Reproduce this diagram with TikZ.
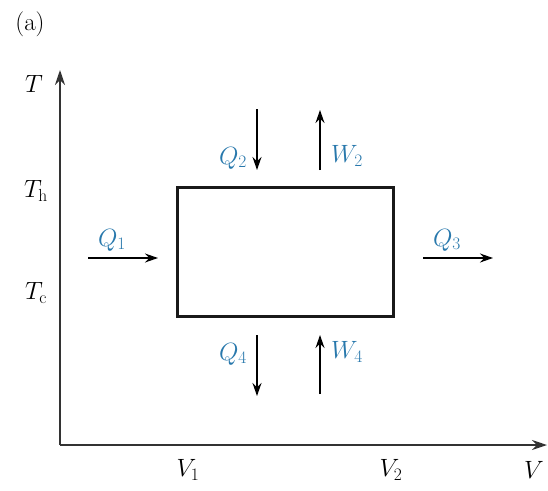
\RequirePackage{fix-cm}
\documentclass[tikz,border=0pt]{standalone}
\usepackage{amsmath, amssymb}
\usepackage{xcolor}
\usepackage{tikz}
\usetikzlibrary{arrows.meta, positioning}
\definecolor{heatblue}{RGB}{40,120,172}
\tikzset{
    axis/.style={line width=1.5pt, draw=black!80, ->, >={Stealth[length=15pt,width=10pt]}},
    arrow/.style={line width=1.3pt, ->, >={Stealth[length=13pt,width=9pt]}},
    cyclebox/.style={rectangle, draw=black!90, line width=3pt, minimum width=216pt, minimum height=129pt, inner sep=0pt},
    flowlabel/.style={text=heatblue, font=\fontsize{25}{28}\selectfont, inner sep=0pt},
    ticklabel/.style={font=\fontsize{25}{28}\selectfont, inner sep=0pt}
}

\begin{document}
\begin{tikzpicture}[x=1pt, y=-1pt]
    \useasboundingbox (0,0) rectangle (548,490);
    \node (panel) [ticklabel] at (30,24) {(a)};

    % axes
    \coordinate (origin) at (60,445);
    \coordinate (ytip) at (60,70);
    \coordinate (xtip) at (547,445);
    \draw [axis] (origin) -- (ytip);
    \draw [axis] (origin) -- (xtip);

    \node (T) [ticklabel] at (34,84) {$T$};
    \node (Th) [ticklabel] at (36,191) {$T_{\mathrm{h}}$};
    \node (Tc) [ticklabel] at (36,293) {$T_{\mathrm{c}}$};
    \node (V1) [ticklabel] at (188,470) {$V_1$};
    \node (V2) [ticklabel] at (391,470) {$V_2$};
    \node (V) [ticklabel] at (534,470) {$V$};

    % the cycle
    \node (cycle) [cyclebox] at (285.5,251.5) {};

    % heat and work
    \coordinate (q1s) at (88,258);  \coordinate (q1e) at (158,258);
    \coordinate (q3s) at (423,258); \coordinate (q3e) at (493,258);
    \coordinate (q2s) at (257,109); \coordinate (q2e) at (257,170);
    \coordinate (w2s) at (320,170); \coordinate (w2e) at (320,110);
    \coordinate (q4s) at (257,335); \coordinate (q4e) at (257,396);
    \coordinate (w4s) at (320,394); \coordinate (w4e) at (320,335);

    \draw [arrow] (q1s) -- (q1e);
    \draw [arrow] (q3s) -- (q3e);
    \draw [arrow] (q2s) -- (q2e);
    \draw [arrow] (w2s) -- (w2e);
    \draw [arrow] (q4s) -- (q4e);
    \draw [arrow] (w4s) -- (w4e);

    \node (Q1) [flowlabel] at (112,240) {$Q_1$};
    \node (Q3) [flowlabel] at (447,240) {$Q_3$};
    \node (Q2) [flowlabel] at (233,158) {$Q_2$};
    \node (W2) [flowlabel] at (347,156) {$W_2$};
    \node (Q4) [flowlabel] at (233,354) {$Q_4$};
    \node (W4) [flowlabel] at (347,352) {$W_4$};
\end{tikzpicture}
\end{document}
